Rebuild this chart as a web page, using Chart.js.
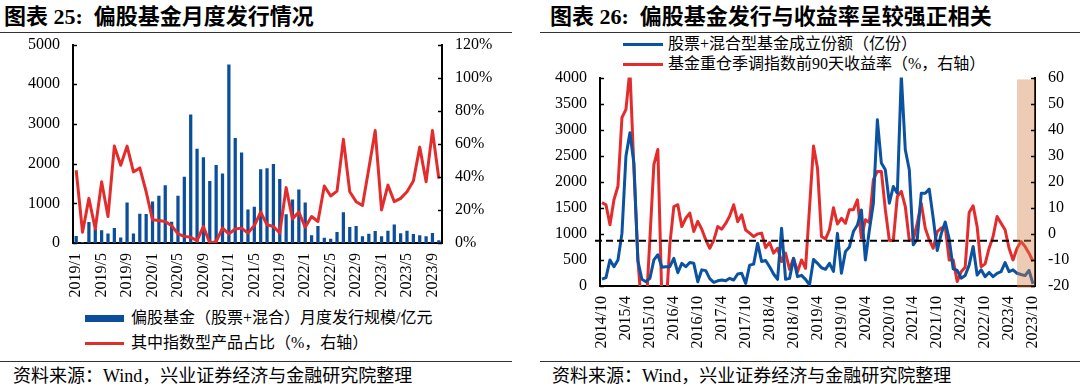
<!DOCTYPE html>
<html lang="zh-CN">
<head>
<meta charset="utf-8">
<title>偏股基金发行情况</title>
<script src="https://cdn.jsdelivr.net/npm/chart.js@4.4.1/dist/chart.umd.min.js"></script>
<style>
  body { margin:0; width:1080px; height:388px; background:#fff; position:relative; overflow:hidden;
         font-family:'Liberation Serif','Noto Sans CJK SC',serif; color:#000; }
  .abs { position:absolute; white-space:nowrap; }
  .title { font-size:22px; font-weight:bold; line-height:26px; top:4px; }
  .rule { height:1px; background:#333; }
  .source { font-size:18px; line-height:22px; top:365px; }
  .leg { font-size:16px; line-height:20px; }
</style>
</head>
<body>

<!-- 左图 -->
<div class="abs title" style="left:4px">图表 25:&nbsp;&nbsp;偏股基金月度发行情况</div>
<div class="abs rule" style="left:0;top:32px;width:512px"></div>
<canvas id="issueChart" class="abs" width="530" height="278" style="left:0;top:22px"></canvas>
<div class="abs" style="left:85px;top:315px;width:39px;height:7px;background:#0b4f9c"></div>
<div class="abs leg" style="left:131px;top:308px">偏股基金（股票+混合）月度发行规模/亿元</div>
<div class="abs" style="left:85px;top:342px;width:39px;height:3px;background:#e32d2d"></div>
<div class="abs leg" style="left:131px;top:333px">其中指数型产品占比（%，右轴）</div>
<div class="abs rule" style="left:0;top:361px;width:512px"></div>
<div class="abs source" style="left:13px">资料来源：Wind，兴业证券经济与金融研究院整理</div>

<!-- 右图 -->
<div class="abs title" style="left:550px">图表 26:&nbsp;&nbsp;偏股基金发行与收益率呈较强正相关</div>
<div class="abs rule" style="left:540px;top:32px;width:540px"></div>
<div class="abs" style="left:623px;top:43px;width:40px;height:3px;background:#0b52a0"></div>
<div class="abs leg" style="left:668px;top:34px">股票+混合型基金成立份额（亿份）</div>
<div class="abs" style="left:623px;top:63px;width:40px;height:3px;background:#e32d2d"></div>
<div class="abs leg" style="left:668px;top:54px">基金重仓季调指数前90天收益率（%，右轴）</div>
<canvas id="returnChart" class="abs" width="540" height="301" style="left:540px;top:55px"></canvas>
<div class="abs rule" style="left:540px;top:361px;width:540px"></div>
<div class="abs source" style="left:552px">资料来源：Wind，兴业证券经济与金融研究院整理</div>

<script>
// ---------- 左图数据：2019/1 - 2023/10 ----------
const issueMonths = [
    '2019/1','2019/2','2019/3','2019/4','2019/5','2019/6','2019/7','2019/8','2019/9','2019/10','2019/11','2019/12',
    '2020/1','2020/2','2020/3','2020/4','2020/5','2020/6','2020/7','2020/8','2020/9','2020/10','2020/11','2020/12',
    '2021/1','2021/2','2021/3','2021/4','2021/5','2021/6','2021/7','2021/8','2021/9','2021/10','2021/11','2021/12',
    '2022/1','2022/2','2022/3','2022/4','2022/5','2022/6','2022/7','2022/8','2022/9','2022/10','2022/11','2022/12',
    '2023/1','2023/2','2023/3','2023/4','2023/5','2023/6','2023/7','2023/8','2023/9','2023/10'
];
const issueShown = ['2019/1','2019/5','2019/9','2020/1','2020/5','2020/9','2021/1','2021/5','2021/9',
    '2022/1','2022/5','2022/9','2023/1','2023/5','2023/9'];
// 偏股基金月度发行规模（亿元）
const issueSize = [
    170, 20, 520, 350, 310, 230, 370, 130, 1010, 230, 730, 720,
    1040, 1180, 1450, 530, 1180, 1660, 3230, 2370, 2150, 1555, 1955, 1745,
    4490, 2640, 2270, 835, 905, 1850, 1875, 1985, 1605, 715, 1088, 1340,
    1010, 185, 420, 126, 100, 270, 766, 396, 420, 160, 227, 295,
    160, 303, 455, 236, 303, 219, 185, 160, 244, 60
];
// 其中指数型产品占比（%）
const indexShare = [
    44, 6.5, 27, 8.5, 37, 16, 58.6, 47, 58.6, 43, 45.4, 31,
    14, 13.6, 13, 10.5, 5.5, 4, 3.5, 1.4, 10, 0, 0.8, 9,
    5.5, 8.5, 9, 6, 10.5, 18.7, 11, 10, 6, 33.5, 14.6, 18.7,
    9.5, 16, 13, 34.5, 28.4, 31.4, 62.7, 31, 25, 22.7, 45, 68,
    20, 35, 25, 27, 31, 37.5, 58, 37, 68, 39
];

// ---------- 右图数据：2014/10 - 2023/10 ----------
const fundMonths = [
    '2014/10','2014/11','2014/12',
    '2015/1','2015/2','2015/3','2015/4','2015/5','2015/6','2015/7','2015/8','2015/9','2015/10','2015/11','2015/12',
    '2016/1','2016/2','2016/3','2016/4','2016/5','2016/6','2016/7','2016/8','2016/9','2016/10','2016/11','2016/12',
    '2017/1','2017/2','2017/3','2017/4','2017/5','2017/6','2017/7','2017/8','2017/9','2017/10','2017/11','2017/12',
    '2018/1','2018/2','2018/3','2018/4','2018/5','2018/6','2018/7','2018/8','2018/9','2018/10','2018/11','2018/12',
    '2019/1','2019/2','2019/3','2019/4','2019/5','2019/6','2019/7','2019/8','2019/9','2019/10','2019/11','2019/12',
    '2020/1','2020/2','2020/3','2020/4','2020/5','2020/6','2020/7','2020/8','2020/9','2020/10','2020/11','2020/12',
    '2021/1','2021/2','2021/3','2021/4','2021/5','2021/6','2021/7','2021/8','2021/9','2021/10','2021/11','2021/12',
    '2022/1','2022/2','2022/3','2022/4','2022/5','2022/6','2022/7','2022/8','2022/9','2022/10','2022/11','2022/12',
    '2023/1','2023/2','2023/3','2023/4','2023/5','2023/6','2023/7','2023/8','2023/9','2023/10'
];
const fundShown = ['2014/10','2015/4','2015/10','2016/4','2016/10','2017/4','2017/10','2018/4','2018/10',
    '2019/4','2019/10','2020/4','2020/10','2021/4','2021/10','2022/4','2022/10','2023/4','2023/10'];
// 股票+混合型基金成立份额（亿份）
const fundShares = [
    130, 160, 500,
    370, 500, 1010, 2490, 2940, 2350, 480, 128, 83, 147, 500, 600,
    360, 370, 370, 530, 255, 435, 370, 450, 435, 83, 310, 295,
    140, 70, 100, 115, 100, 147, 115, 230, 245, 50, 400, 420,
    820, 470, 490, 370, 230, 128, 1110, 128, 147, 530, 180, 205,
    128, 20, 510, 435, 350, 320, 435, 280, 1010, 245, 660, 750,
    1045, 1170, 1460, 500, 1075, 1590, 3190, 2360, 2230, 1590, 1910, 1780,
    4050, 2615, 2230, 790, 900, 1780, 1780, 1860, 1300, 680, 1000, 1230,
    900, 330, 300, 150, 200, 400, 757, 212, 310, 180, 260, 180,
    244, 276, 450, 276, 310, 244, 220, 200, 300, 40
];
// 基金重仓季调指数前90天收益率（%）
const fundReturn = [
    12, 11.2, 3.5,
    13.1, 18.3, 44.6, 47.8, 63, 25, -10, -30, -30, -2, 26.6, 32.4,
    -25, -30, -4, 10.5, 11.2, 2.8, 6, 8, 0.9, 4.8, 1.8, -2.3,
    -5.5, -2.5, 2.8, 1.8, 4, 6.9, 11.2, 4.7, 7.3, 1.5, 0.3, -1,
    0, 0.3, -5.3, -3.3, -7.4, -5.5, -10.6, -7.4, -13.6, -9.4, -14.5, -10,
    -13.2, 10, 33.7, 25.3, -1, -2, 1.6, 10, 3.8, 6, 4.1, 9.3,
    9.3, 13.1, -1.6, 5.4, 4.4, 20.8, 24, 24, 9.3, -2.5, -2.5, 14.4,
    16.3, 10.5, -2.5, -2.3, 4.1, 11.8, 2.2, -2.3, -5.5, 0.9, 2.2, 2.8,
    -10, -10, -18.3, -14.5, -12.8, 8.2, 10.8, 2.8, -12.6, -11.5, -5.5, -1,
    6.7, 4.1, 1.6, -5.5, -10, -5.5, -2.9, -4.8, -7.4, -10.6
];
const sharesLevel = 870;      // 虚线位置（亿份）
const shadeFrom = '2023/6';   // 阴影起始月份

const BLUE = '#0b52a0';
const BAR_BLUE = '#0b4f9c';
const RED = '#e32d2d';
const FONT = "'Liberation Serif', 'Noto Sans CJK SC', serif";
const tickFont = { family: FONT, size: 16 };

// 坐标轴刻度线画在图内
const innerTicks = {
    id: 'innerTicks',
    afterDraw(chart) {
        const ctx = chart.ctx;
        ctx.save();
        ctx.strokeStyle = '#000';
        ctx.lineWidth = 1.5;
        ['yL', 'yR'].forEach(id => {
            const s = chart.scales[id];
            const isLeft = s.position === 'left';
            const x0 = isLeft ? s.right : s.left;
            const dir = isLeft ? 1 : -1;
            s.ticks.forEach((t, i) => {
                const y = Math.round(s.getPixelForTick(i)) + 0.5;
                ctx.beginPath();
                ctx.moveTo(x0, y);
                ctx.lineTo(x0 + dir * 4, y);
                ctx.stroke();
            });
        });
        ctx.restore();
    }
};

function yAxis(position, min, max, step, width, fmt) {
    return {
        position: position,
        min: min,
        max: max,
        grid: { display: false, drawTicks: false },
        border: { display: true, color: '#000', width: 2 },
        ticks: { stepSize: step, padding: 13, color: '#000', font: tickFont, callback: fmt },
        afterFit: s => { s.width = width; }
    };
}

function xAxis(shown, height) {
    return {
        offset: true,
        grid: { display: false, drawTicks: false },
        border: { display: true, color: '#000', width: 2 },
        ticks: {
            autoSkip: false,
            minRotation: 90,
            maxRotation: 90,
            padding: 10,
            color: '#000',
            font: tickFont,
            callback: function(value) {
                const label = this.getLabelForValue(value);
                return shown.includes(label) ? label : '';
            }
        },
        afterFit: s => { s.height = height; }
    };
}

new Chart(document.getElementById('issueChart'), {
    type: 'bar',
    data: {
        labels: issueMonths,
        datasets: [{
            type: 'line',
            label: '其中指数型产品占比（%，右轴）',
            data: indexShare,
            yAxisID: 'yR',
            borderColor: RED,
            borderWidth: 3,
            borderJoinStyle: 'round',
            pointRadius: 0,
            tension: 0,
            order: 0
        }, {
            label: '偏股基金（股票+混合）月度发行规模/亿元',
            data: issueSize,
            yAxisID: 'yL',
            backgroundColor: BAR_BLUE,
            barThickness: 2.6,
            order: 1
        }]
    },
    options: {
        responsive: false,
        animation: false,
        layout: { padding: 0 },
        plugins: { legend: { display: false }, tooltip: { enabled: false } },
        scales: {
            x: xAxis(issueShown, 57),
            yL: yAxis('left', 0, 5000, 1000, 73, v => String(v)),
            yR: yAxis('right', 0, 120, 20, 88, v => v + '%')
        }
    },
    plugins: [innerTicks]
});

// 虚线与阴影区间
const guides = {
    id: 'guides',
    afterDatasetsDraw(chart) {
        const { ctx, chartArea: a, scales: { x, yL, yR } } = chart;
        ctx.save();
        const y = yL.getPixelForValue(sharesLevel);
        ctx.strokeStyle = '#000';
        ctx.lineWidth = 2;
        ctx.setLineDash([7, 4]);
        ctx.beginPath();
        ctx.moveTo(a.left - 5, y);
        ctx.lineTo(a.right, y);
        ctx.stroke();
        const x0 = x.getPixelForValue(fundMonths.indexOf(shadeFrom));
        const top = yR.getPixelForValue(59.3);
        ctx.fillStyle = 'rgba(210, 125, 70, 0.4)';
        ctx.fillRect(x0, top, a.right - x0, a.bottom + 2 - top);
        ctx.restore();
    }
};

new Chart(document.getElementById('returnChart'), {
    type: 'line',
    data: {
        labels: fundMonths,
        datasets: [{
            label: '股票+混合型基金成立份额（亿份）',
            data: fundShares,
            yAxisID: 'yL',
            borderColor: BLUE,
            borderWidth: 3,
            borderJoinStyle: 'round',
            pointRadius: 0,
            tension: 0
        }, {
            label: '基金重仓季调指数前90天收益率（%，右轴）',
            data: fundReturn,
            yAxisID: 'yR',
            borderColor: RED,
            borderWidth: 3,
            borderJoinStyle: 'round',
            pointRadius: 0,
            tension: 0
        }]
    },
    options: {
        responsive: false,
        animation: false,
        layout: { padding: 0 },
        plugins: { legend: { display: false }, tooltip: { enabled: false } },
        scales: {
            x: xAxis(fundShown, 70),
            yL: yAxis('left', 0, 4000, 500, 60, v => String(v)),
            yR: yAxis('right', -20, 60, 10, 45, v => String(v))
        }
    },
    plugins: [innerTicks, guides]
});
</script>
</body>
</html>
